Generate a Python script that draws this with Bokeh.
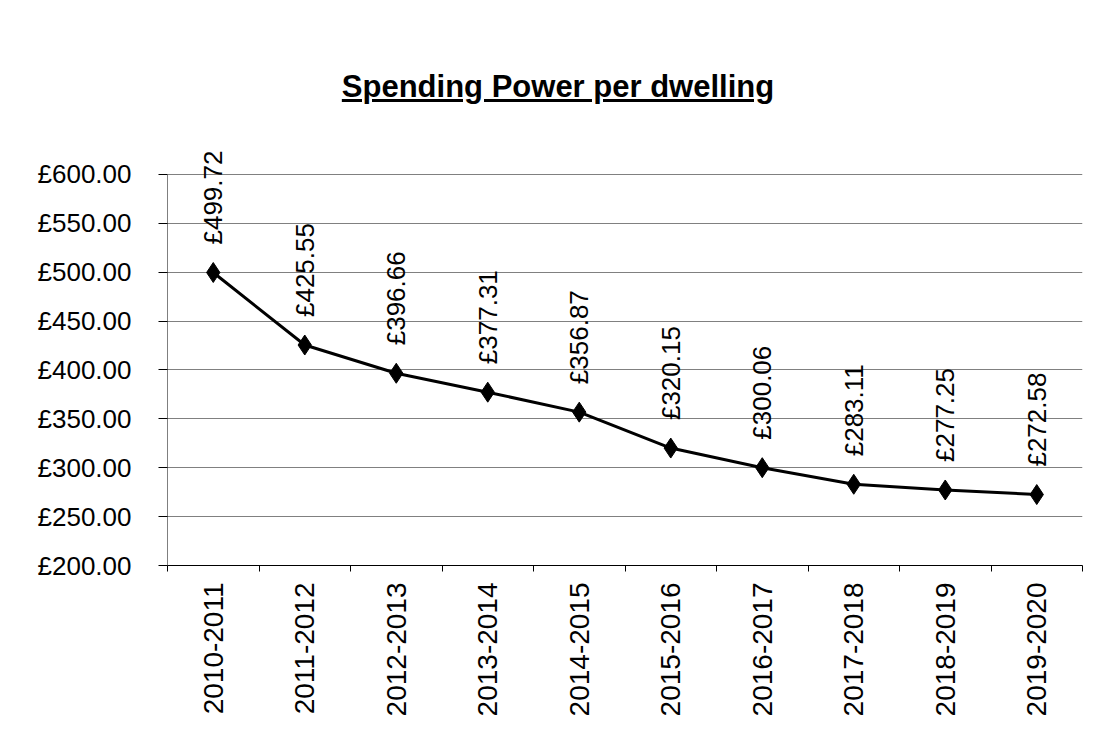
import math
from bokeh.plotting import figure
from bokeh.models import (ColumnDataSource, FixedTicker, LabelSet, Range1d, Div)
from bokeh.core.properties import value
from bokeh.layouts import column
from bokeh.embed import file_html
from bokeh.resources import INLINE

# ---- data ----
years = ["2010-2011", "2011-2012", "2012-2013", "2013-2014", "2014-2015",
         "2015-2016", "2016-2017", "2017-2018", "2018-2019", "2019-2020"]
values = [499.72, 425.55, 396.66, 377.31, 356.87, 320.15, 300.06, 283.11, 277.25, 272.58]
y_ticks = [200, 250, 300, 350, 400, 450, 500, 550, 600]
y_tick_labels = ["£200.00", "£250.00", "£300.00", "£350.00", "£400.00",
                 "£450.00", "£500.00", "£550.00", "£600.00"]
title_text = "Spending Power per dwelling"

FONT = "Liberation Sans"

xs = [i + 0.5 for i in range(len(years))]
labels = ["£%.2f" % v for v in values]
src = ColumnDataSource(dict(x=xs, y=values, lab=labels))

p = figure(width=1086, height=595, output_backend="svg", toolbar_location=None,
           x_range=Range1d(0, len(years)), y_range=Range1d(200, 645),
           min_border_left=167, min_border_right=4, min_border_top=0,
           min_border_bottom=160)
p.outline_line_color = None
p.background_fill_color = "white"
p.border_fill_color = "white"

# y axis line only from 200 to 600
p.segment(x0=[0], y0=[y_ticks[0]], x1=[0], y1=[y_ticks[-1]], line_color="black",
          line_width=1)

p.line("x", "y", source=src, line_color="black", line_width=3)
p.scatter("x", "y", source=src, marker="diamond", size=20, fill_color="black",
          line_color="black")

ls = LabelSet(x="x", y="y", text="lab", source=src, angle=math.pi / 2,
              text_align="left", text_baseline="middle", y_offset=28,
              text_font=value(FONT), text_font_size="26px", text_color="black")
p.add_layout(ls)

# x axis
p.xaxis.ticker = FixedTicker(ticks=xs, minor_ticks=list(range(len(years) + 1)))
p.xaxis.major_label_overrides = {x: y for x, y in zip(xs, years)}
p.xaxis.major_label_orientation = math.pi / 2
p.xaxis.major_tick_line_color = None
p.xaxis.major_tick_out = 0
p.xaxis.major_tick_in = 0
p.xaxis.minor_tick_out = 6
p.xaxis.minor_tick_in = 0
p.xaxis.minor_tick_line_color = "black"
p.xaxis.axis_line_color = "black"
p.xaxis.major_label_standoff = 11
p.xaxis.major_label_text_font = FONT
p.xaxis.major_label_text_font_size = "28px"
p.xaxis.major_label_text_color = "black"

# y axis
p.yaxis.ticker = FixedTicker(ticks=y_ticks, minor_ticks=[])
p.yaxis.major_label_overrides = {t: l for t, l in zip(y_ticks, y_tick_labels)}
p.yaxis.major_tick_out = 9
p.yaxis.major_tick_in = 0
p.yaxis.axis_line_color = None
p.yaxis.major_label_standoff = 27
p.yaxis.major_label_text_font = FONT
p.yaxis.major_label_text_font_size = "26px"
p.yaxis.major_label_text_color = "black"

p.xgrid.grid_line_color = None
p.ygrid.ticker = FixedTicker(ticks=y_ticks[1:])
p.ygrid.grid_line_color = "#808080"
p.ygrid.grid_line_width = 1

div = Div(text=('<div style="width:1086px;text-align:center;padding-top:66px;'
                'padding-left:20px;box-sizing:border-box;font-family:\'Liberation Sans\';'
                'font-weight:bold;font-size:31px;line-height:1;'
                'text-decoration:underline;color:black;">' + title_text + '</div>'),
          width=1086, height=120)

layout = column(div, p, spacing=0)
open("out.html", "w").write(file_html(layout, INLINE))
